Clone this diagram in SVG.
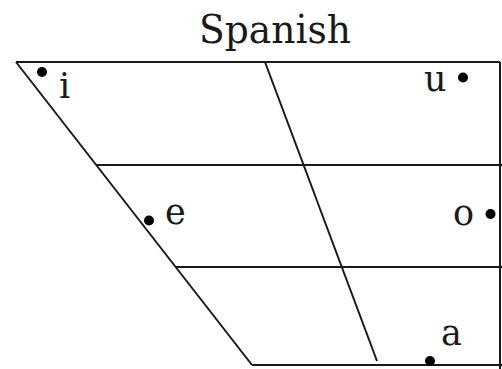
<svg xmlns="http://www.w3.org/2000/svg" width="502" height="369" viewBox="0 0 502 369">
<style>
.ln{stroke:#1a1a1a;stroke-width:2;fill:none}
.dot{fill:#000}
.lbl{font-family:"DejaVu Serif",serif;font-size:35px;fill:#1a1a1a}
.ttl{font-family:"DejaVu Serif",serif;font-size:40px;fill:#1a1a1a}
</style>
<rect width="502" height="369" fill="#fff"/>
<text class="ttl" x="275" y="43" text-anchor="middle" textLength="152" lengthAdjust="spacingAndGlyphs">Spanish</text>
<g id="connectors">
<line class="ln" x1="16" y1="62" x2="500" y2="62"/>
<line class="ln" x1="16" y1="62" x2="252" y2="365"/>
<line class="ln" x1="500" y1="62" x2="500" y2="369"/>
<line class="ln" x1="252" y1="365" x2="502" y2="365"/>
<line class="ln" x1="96" y1="165" x2="502" y2="165"/>
<line class="ln" x1="176" y1="267" x2="502" y2="267"/>
<line class="ln" x1="265" y1="62" x2="377" y2="361"/>
</g>
<g id="vowel-i"><circle class="dot" cx="42" cy="72" r="5"/><text class="lbl" x="59" y="98">i</text></g>
<g id="vowel-u"><circle class="dot" cx="463" cy="77.5" r="5"/><text class="lbl" x="424" y="91">u</text></g>
<g id="vowel-e"><circle class="dot" cx="149" cy="220.5" r="5"/><text class="lbl" x="165" y="224">e</text></g>
<g id="vowel-o"><circle class="dot" cx="490.5" cy="214" r="5"/><text class="lbl" x="453" y="225">o</text></g>
<g id="vowel-a"><circle class="dot" cx="430" cy="361" r="5"/><text class="lbl" x="441" y="345">a</text></g>
</svg>
